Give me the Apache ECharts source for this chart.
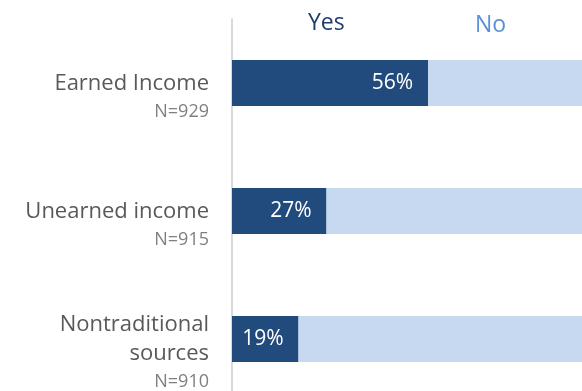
<!DOCTYPE html>
<html>
<head>
<meta charset="utf-8">
<script src="https://cdn.jsdelivr.net/npm/echarts@6/dist/echarts.min.js"></script>
<style>
  html, body { margin: 0; padding: 0; background: #fff; }
  #grafico { width: 582px; height: 391px; }
</style>
</head>
<body>
<div id="grafico"></div>
<script>
var categorias = ['Earned Income', 'Unearned income', 'Nontraditional\nsources'];
var amostras = [929, 915, 910];
var sim = [56, 27, 19];
var nao = [44, 73, 81];

var fonte = '"Open Sans", "Noto Sans", sans-serif';

var myChart = echarts.init(document.getElementById('grafico'));

var option = {
  animation: false,
  textStyle: { fontFamily: fonte },
  legend: [
    {
      data: ['Yes'],
      left: 298,
      top: 7,
      icon: 'none',
      itemWidth: 0,
      itemHeight: 0,
      textStyle: { fontSize: 23, color: '#1f3b6e', fontFamily: fonte }
    },
    {
      data: ['No'],
      left: 465,
      top: 9,
      icon: 'none',
      itemWidth: 0,
      itemHeight: 0,
      textStyle: { fontSize: 23, color: '#5b8fd4', fontFamily: fonte }
    }
  ],
  grid: {
    left: 232,
    right: 0,
    top: 19,
    height: 384,
    containLabel: false,
    outerBoundsMode: 'none'
  },
  xAxis: {
    type: 'value',
    min: 0,
    max: 100,
    show: false
  },
  yAxis: {
    type: 'category',
    inverse: true,
    data: categorias,
    axisTick: { show: false },
    axisLine: { show: true, lineStyle: { color: '#d9d9d9', width: 2 } },
    axisLabel: {
      margin: 23,
      padding: [28, 0, 0, 0],
      formatter: function (valor, i) {
        return '{a|' + valor + '}\n{n|N=' + amostras[i] + '}';
      },
      rich: {
        a: { fontSize: 22, color: '#595959', lineHeight: 29, align: 'right', fontFamily: fonte },
        n: { fontSize: 18, color: '#7f7f7f', lineHeight: 27, align: 'right', fontFamily: fonte }
      }
    }
  },
  series: [
    {
      name: 'Yes',
      type: 'bar',
      stack: 'total',
      barWidth: 46,
      data: sim,
      itemStyle: { color: '#214a7d' },
      label: {
        show: true,
        position: 'insideRight',
        distance: 15,
        color: '#fff',
        fontSize: 21,
        fontFamily: fonte,
        formatter: '{c}%'
      }
    },
    {
      name: 'No',
      type: 'bar',
      stack: 'total',
      barWidth: 46,
      data: nao,
      itemStyle: { color: '#c6d9f0' }
    }
  ]
};

option && myChart.setOption(option);
</script>
</body>
</html>
